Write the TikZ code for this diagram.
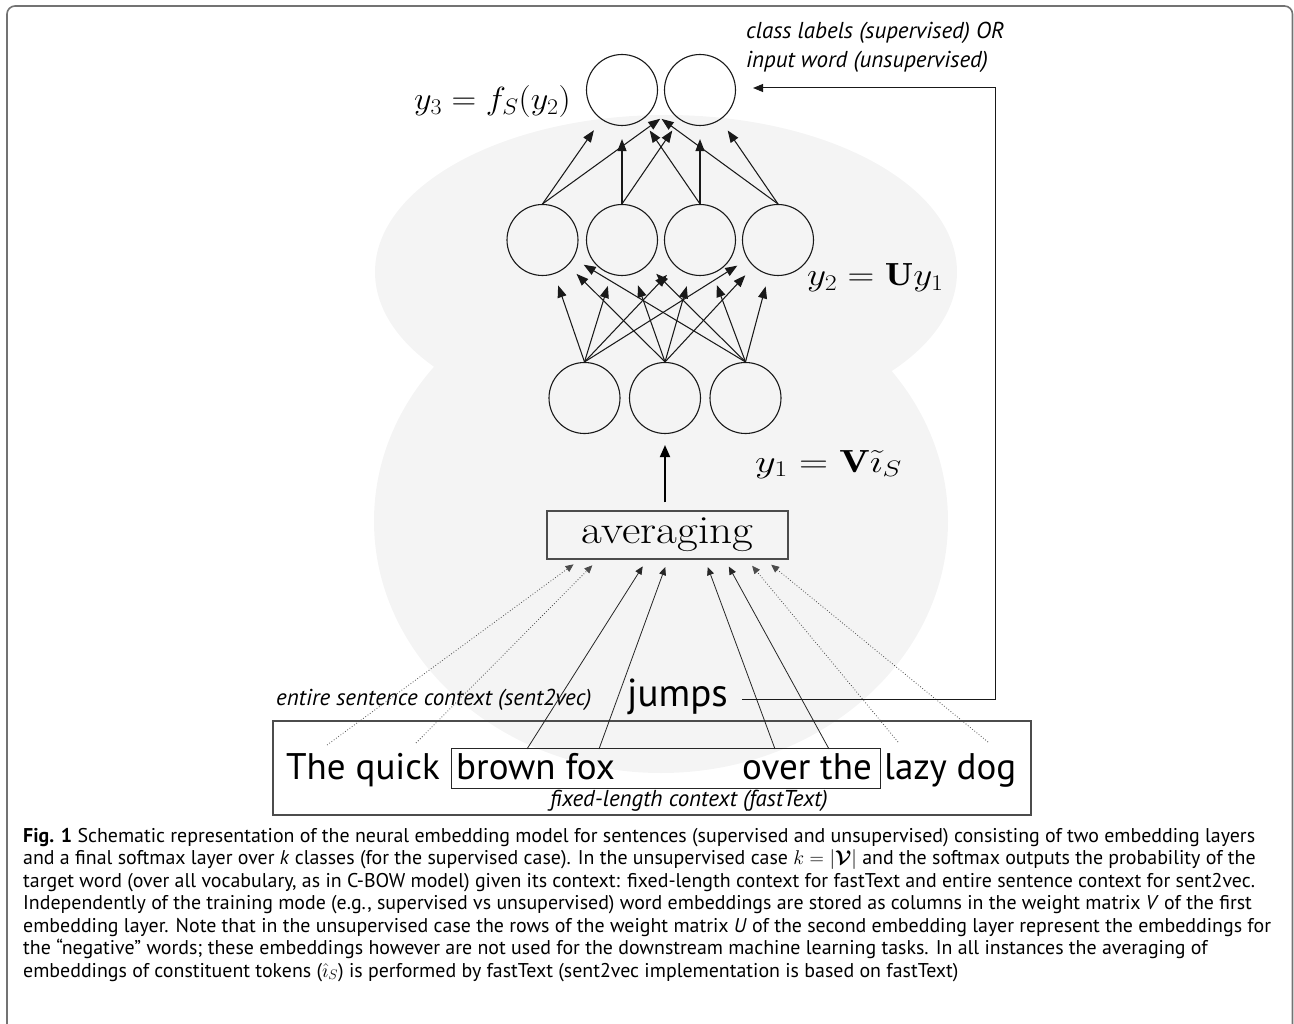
\RequirePackage{fix-cm}
\documentclass[tikz,border=0pt]{standalone}
\usepackage{fontspec}
\usepackage{graphicx}
\usepackage{bm}
\setsansfont{PT Sans}
\newfontfamily\avgfont[FakeStretch=1.13]{Latin Modern Roman}
\usetikzlibrary{arrows.meta}
\definecolor{blob}{HTML}{F4F4F4}
\tikzset{
  neuron/.style={circle, draw=black!90, line width=1.1pt, minimum size=71pt, inner sep=0pt},
  conn/.style={-{Triangle[length=12pt,width=9pt]}, line width=1.05pt, black!90},
  wordarrow/.style={-{Triangle[length=8pt,width=7pt]}, line width=0.8pt, black!85},
  dotarrow/.style={-{Triangle[length=8pt,width=7pt]}, line width=0.8pt, black!70, dotted},
  word/.style={font=\sffamily\fontsize{37}{40}\selectfont, inner sep=0pt},
  itlabel/.style={font=\sffamily\itshape\fontsize{23}{28}\selectfont, inner sep=0pt, anchor=base west},
  mathlabel/.style={font=\fontsize{32}{36}\selectfont, inner sep=0pt},
  capline/.style={font=\sffamily\fontsize{19.9}{22}\selectfont, inner sep=0pt, anchor=base west},
}
\begin{document}
\begin{tikzpicture}[x=1pt,y=-1pt]
\useasboundingbox (0,0) rectangle (1294,1024);
\clip (0,0) rectangle (1294,1024);
% background blob
\fill[blob] (666,272) ellipse [x radius=291, y radius=157];
\fill[blob] (661,521) ellipse [x radius=287, y radius=252];
% outer frame
\draw[black!55, line width=1.6pt, rounded corners=8pt] (7,6) rectangle (1292.5,1060);

% neurons
\node[neuron] (t1) at (622,90) {};
\node[neuron] (t2) at (700,90) {};
\node[neuron] (m1) at (542.5,240) {};
\node[neuron] (m2) at (622,240) {};
\node[neuron] (m3) at (700,240) {};
\node[neuron] (m4) at (778,240) {};
\node[neuron] (b1) at (584.5,398) {};
\node[neuron] (b2) at (665,398) {};
\node[neuron] (b3) at (745.5,398) {};

\foreach \b in {b1,b2,b3}
  \foreach \m in {m1,m2,m3,m4}
    \draw[conn, shorten >=12pt] (\b.north) -- (\m);
\foreach \m in {m1,m2,m3,m4}
  \foreach \t in {t1,t2}
    \draw[conn, shorten >=13pt] (\m.north) -- (\t);

% labels
\node[mathlabel, anchor=base east] (ly3) at (571,110) {\scalebox{1.07}[1]{$y_3 = f_S(y_2)$}};
\node[mathlabel, anchor=base west] (ly2) at (807,286) {\scalebox{1.16}[1]{$y_2 = \mathbf{U}y_1$}};
\node[mathlabel, anchor=base west] (ly1) at (755,472) {\scalebox{1.26}[1]{$y_1 = \mathbf{V}\tilde{\imath}_S$}};
\node[itlabel] (cls1) at (746,39) {class labels (supervised) OR};
\node[itlabel] (cls2) at (746,68) {input word (unsupervised)};

% averaging
\node[draw=black!70, line width=1.2pt, minimum width=241pt, minimum height=48pt, inner sep=0pt,
      font=\avgfont\fontsize{40}{40}\selectfont] (avg) at (667.5,535) {averaging};
\draw[-{Triangle[length=12pt,width=10pt]}, line width=1.8pt, shorten <=8pt, shorten >=11pt] (b2 |- avg.north) -- (b2);

% sentence
\node[draw=black!70, line width=1.2pt, minimum width=758pt, minimum height=94pt, inner sep=0pt] (sentbox) at (652,768) {};
\node[draw=black!85, line width=1pt, minimum width=429pt, minimum height=40pt, inner sep=0pt] (ctxbox) at (665.5,768) {};
\node[word, anchor=base west] (wTheQuick) at (286,779) {The quick};
\node[word, anchor=base west] (wBrownFox) at (456,779) {brown fox};
\node[word, anchor=base east] (wOverThe) at (872,779) {over the};
\node[word, anchor=base west] (wLazyDog) at (884,779) {lazy dog};
\node[word, font=\sffamily\fontsize{39}{42}\selectfont, anchor=base west] (jumps) at (627,706) {jumps};
\node[itlabel] (sentlbl) at (276,705) {entire sentence context (sent2vec)};
\node[itlabel] (fixlbl) at (550,806) {fixed-length context (fastText)};

\coordinate (sThe) at (327,745);
\coordinate (sQuick) at (416,743);
\coordinate (sBrown) at (527,749);
\coordinate (sFox) at (599,749);
\coordinate (sOver) at (775,749);
\coordinate (sThe2) at (829,749);
\coordinate (sLazy) at (898,742);
\coordinate (sDog) at (988,742);

\draw[dotarrow, shorten >=8pt] (sThe) -- ([xshift=-87.5pt]avg.south);
\draw[dotarrow, shorten >=8pt] (sQuick) -- ([xshift=-69.5pt]avg.south);
\draw[wordarrow, shorten >=8pt] (sBrown) -- ([xshift=-20.5pt]avg.south);
\draw[wordarrow, shorten >=8pt] (sFox) -- ([xshift=0.5pt]avg.south);
\draw[wordarrow, shorten >=8pt] (sOver) -- ([xshift=37.5pt]avg.south);
\draw[wordarrow, shorten >=8pt] (sThe2) -- ([xshift=57.5pt]avg.south);
\draw[dotarrow, shorten >=8pt] (sLazy) -- ([xshift=79.5pt]avg.south);
\draw[dotarrow, shorten >=8pt] (sDog) -- ([xshift=97.5pt]avg.south);

% return connector
\coordinate (rc) at (981,0);
\draw[-{Triangle[length=10pt,width=8pt]}, line width=1pt, black!90]
  ([xshift=14pt,yshift=7pt]jumps.base east) -- ([xshift=14pt,yshift=7pt]jumps.base east -| rc)
  |- ([xshift=17pt,yshift=2pt]t2.east);

% caption
\node[capline] (c1) at (23,842) {\textbf{Fig. 1} Schematic representation of the neural embedding model for sentences (supervised and unsupervised) consisting of two embedding layers};
\node[capline] (c2) at (23,864.5) {and a final softmax layer over \textit{k} classes (for the supervised case). In the unsupervised case $k = |\bm{\mathcal{V}}|$ and the softmax outputs the probability of the};
\node[capline] (c3) at (23,887) {target word (over all vocabulary, as in C-BOW model) given its context: fixed-length context for fastText and entire sentence context for sent2vec.};
\node[capline] (c4) at (23,909.5) {Independently of the training mode (e.g., supervised vs unsupervised) word embeddings are stored as columns in the weight matrix \textit{V} of the first};
\node[capline] (c5) at (23,932) {embedding layer. Note that in the unsupervised case the rows of the weight matrix \textit{U} of the second embedding layer represent the embeddings for};
\node[capline] (c6) at (23,954.5) {the “negative” words; these embeddings however are not used for the downstream machine learning tasks. In all instances the averaging of};
\node[capline] (c7) at (23,977) {embeddings of constituent tokens ($\hat{\imath}_S$) is performed by fastText (sent2vec implementation is based on fastText)};
\end{tikzpicture}
\end{document}
